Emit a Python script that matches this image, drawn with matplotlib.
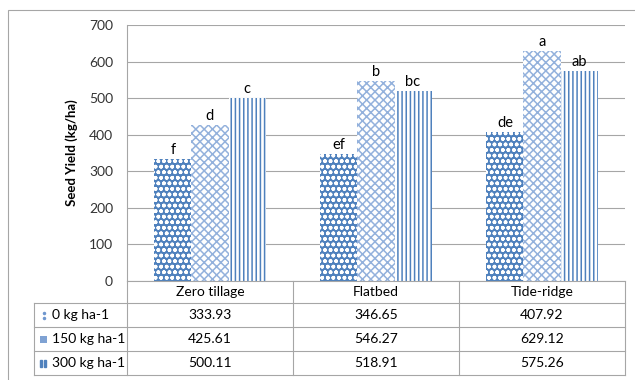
import numpy as np
import matplotlib.pyplot as plt
from matplotlib.patches import Rectangle

plt.rcParams['font.family'] = ['Lato', 'DejaVu Sans']

# data
places = ['Zero tillage', 'Flatbed', 'Tide-ridge']
doses = ['0 kg ha-1', '150 kg ha-1', '300 kg ha-1']
y_0 = [333.93, 346.65, 407.92]
y_150 = [425.61, 546.27, 629.12]
y_300 = [500.11, 518.91, 575.26]
letters_0 = ['f', 'ef', 'de']
letters_150 = ['d', 'b', 'a']
letters_300 = ['c', 'bc', 'ab']

W, H = 635, 380
blue = '#4F81BD'
grey = '#A6A6A6'

fig = plt.figure(figsize=(W / 100, H / 100), dpi=100)

# outer chart border
fig.patches.append(Rectangle((8 / W, -0.1), 1.2, 1 - 10 / H + 0.1, transform=fig.transFigure,
                             fill=False, edgecolor=grey, linewidth=0.8))

ax = fig.add_axes([127 / W, 1 - 281 / H, (625 - 127) / W, (281 - 25) / H])
x = np.arange(len(places))
bw = 0.223

plt.rcParams['hatch.linewidth'] = 1.1
b1 = ax.bar(x - bw, y_0, bw, color=blue, edgecolor='white', hatch='ooo', linewidth=0)
b2 = ax.bar(x, y_150, bw, color='white', edgecolor='#93B1DC', hatch='xxxx', linewidth=0)
b3 = ax.bar(x + bw, y_300, bw, color='white', edgecolor=blue, hatch='||||', linewidth=0)

for bars, labs in [(b1, letters_0), (b2, letters_150), (b3, letters_300)]:
    for r, t in zip(bars, labs):
        ax.annotate(t, (r.get_x() + r.get_width() / 2, r.get_height()),
                    xytext=(0, 1.5), textcoords='offset points',
                    ha='center', va='bottom', fontsize=10.5)

ax.set_xlim(-0.5, 2.5)
ax.set_ylim(0, 700)
ax.set_yticks(range(0, 701, 100))
ax.set_xticks([])
ax.tick_params(axis='y', length=0, pad=10, labelsize=10, labelcolor='#333333')
ax.yaxis.grid(True, color=grey, linewidth=0.8)
ax.set_axisbelow(True)
for s in ['top', 'right', 'bottom']:
    ax.spines[s].set_visible(False)
ax.spines['left'].set_color(grey)
ax.spines['left'].set_linewidth(0.8)

fig.text(72 / W, 1 - 153 / H, 'Seed Yield (kg/ha)', rotation=90, ha='center', va='center',
         fontsize=9.5, fontweight='bold')

# data table below the plot
tx = fig.add_axes([0, 0, 1, 1], facecolor='none')
tx.set_xlim(0, W)
tx.set_ylim(H, 0)
tx.axis('off')
rows = [281, 303, 327, 351, 375]
cols = [34, 127, 293, 459, 625]
lk = dict(color=grey, linewidth=0.8)
tx.plot([127, 625], [281, 281], **lk)
for yy in rows[1:]:
    tx.plot([34, 625], [yy, yy], **lk)
tx.plot([34, 34], [303, 375], **lk)
for xx in cols[1:]:
    tx.plot([xx, xx], [281, 375], **lk)

for i, p in enumerate(places):
    tx.text((cols[i + 1] + cols[i + 2]) / 2, 292.5, p, ha='center', va='center', fontsize=10)
for j, (d, vals) in enumerate(zip(doses, [y_0, y_150, y_300])):
    yc = (rows[j + 1] + rows[j + 2]) / 2
    tx.text(52, yc, d, ha='left', va='center', fontsize=10)
    for i, v in enumerate(vals):
        tx.text((cols[i + 1] + cols[i + 2]) / 2, yc, f'{v:.2f}', ha='center', va='center', fontsize=10)

# legend keys in the table
y1 = (rows[1] + rows[2]) / 2
tx.plot([44, 44], [y1 - 2.5, y1 + 2.5], 'o', color='#6F97CE', markersize=1.5)
y2 = (rows[2] + rows[3]) / 2
tx.add_patch(Rectangle((40, y2 - 3.5), 7, 7, facecolor='#7FA2D3', linewidth=0))
y3 = (rows[3] + rows[4]) / 2
tx.add_patch(Rectangle((40, y3 - 3.5), 1.8, 7, color=blue))
tx.add_patch(Rectangle((44, y3 - 3.5), 1.8, 7, color=blue))

fig.savefig('out.png', dpi=100)
